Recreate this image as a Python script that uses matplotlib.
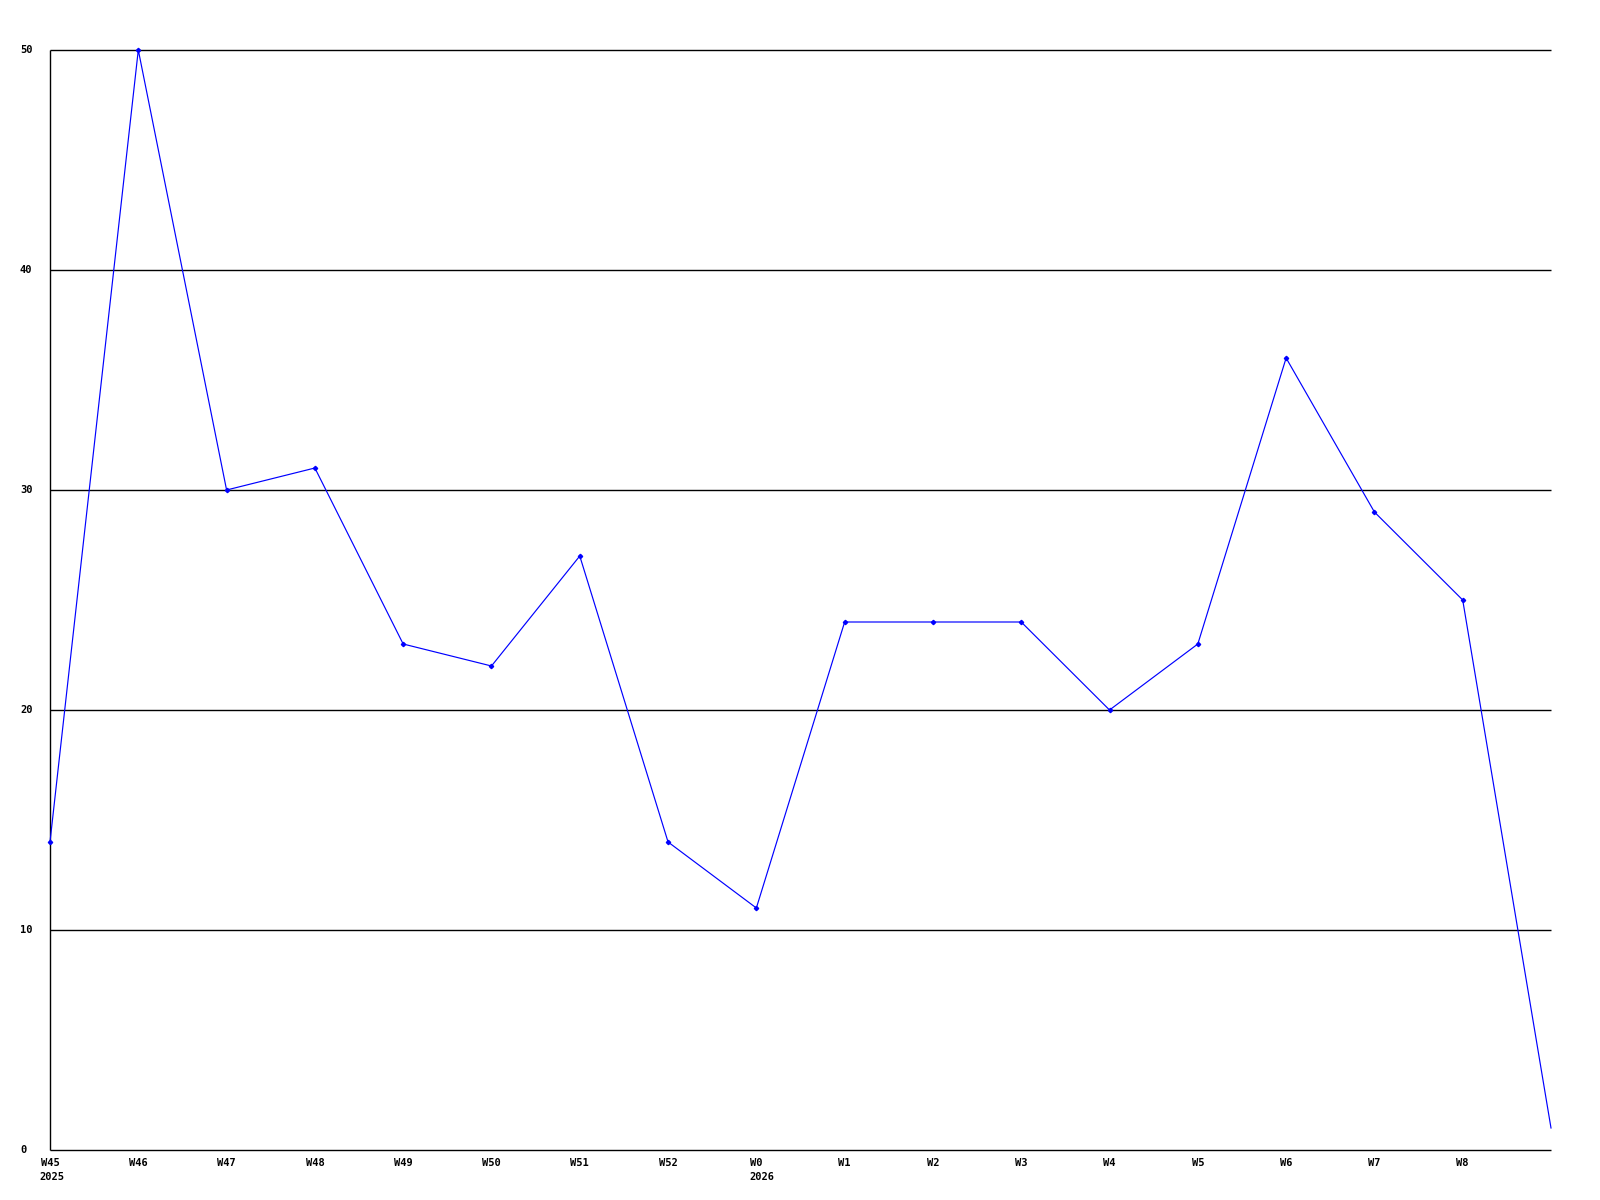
import matplotlib
matplotlib.use("Agg")
import matplotlib.pyplot as plt
import matplotlib.transforms as mtransforms

weeks = ["W45", "W46", "W47", "W48", "W49", "W50", "W51", "W52", "W0",
         "W1", "W2", "W3", "W4", "W5", "W6", "W7", "W8", ""]
years = {"W45": "2025", "W0": "2026"}
values = [14, 50, 30, 31, 23, 22, 27, 14, 11, 24, 24, 24, 20, 23, 36, 29, 25, 1]
yticks = [0, 10, 20, 30, 40, 50]

W, H = 1600, 1200
fig = plt.figure(figsize=(16, 12), dpi=100)
L, R, T, B = 50, 1551, 50, 1150
ax = fig.add_axes([L / W, (H - B) / H, (R - L) / W, (B - T) / H])
ax.set_xlim(0, len(values) - 1)
ax.set_ylim(0, 50)
for s in ["top", "right"]:
    ax.spines[s].set_visible(False)
for s in ["left", "bottom"]:
    ax.spines[s].set_color("black")
    ax.spines[s].set_linewidth(1.0)
    ax.spines[s].set_capstyle("butt")
ax.set_xticks([])
ax.set_yticks([])

for y in yticks[1:]:
    ax.axhline(y, color="black", linewidth=1.0, zorder=1, clip_on=False,
               solid_capstyle="butt")

x = list(range(len(values)))
ax.plot(x, values, color="#0000FF", linewidth=0.85, marker="D", markersize=2.2,
        markevery=list(range(len(values) - 1)), zorder=3, clip_on=False)

font = dict(family="DejaVu Sans Mono", fontweight="bold", fontsize=7.5)

# y labels: left-aligned at x=20 px
ytrans = mtransforms.blended_transform_factory(fig.transFigure, ax.transData)
for y in yticks:
    ax.text(20 / W, y, str(y), transform=ytrans, ha="left", va="center", **font)

# x labels
xtrans = mtransforms.blended_transform_factory(ax.transData, fig.transFigure)
for i, w in enumerate(weeks):
    if not w:
        continue
    ax.text(i, 1 - 1162.5 / H, w, transform=xtrans, ha="center", va="center", **font)
    if w in years:
        xfig = (L + i / (len(values) - 1) * (R - L)) / W
        left = xfig - len(w) * 3.4 / W
        fig.text(left, 1 - 1177.5 / H, years[w], ha="left", va="center", **font)

fig.savefig("out.png", dpi=100, facecolor="white")
